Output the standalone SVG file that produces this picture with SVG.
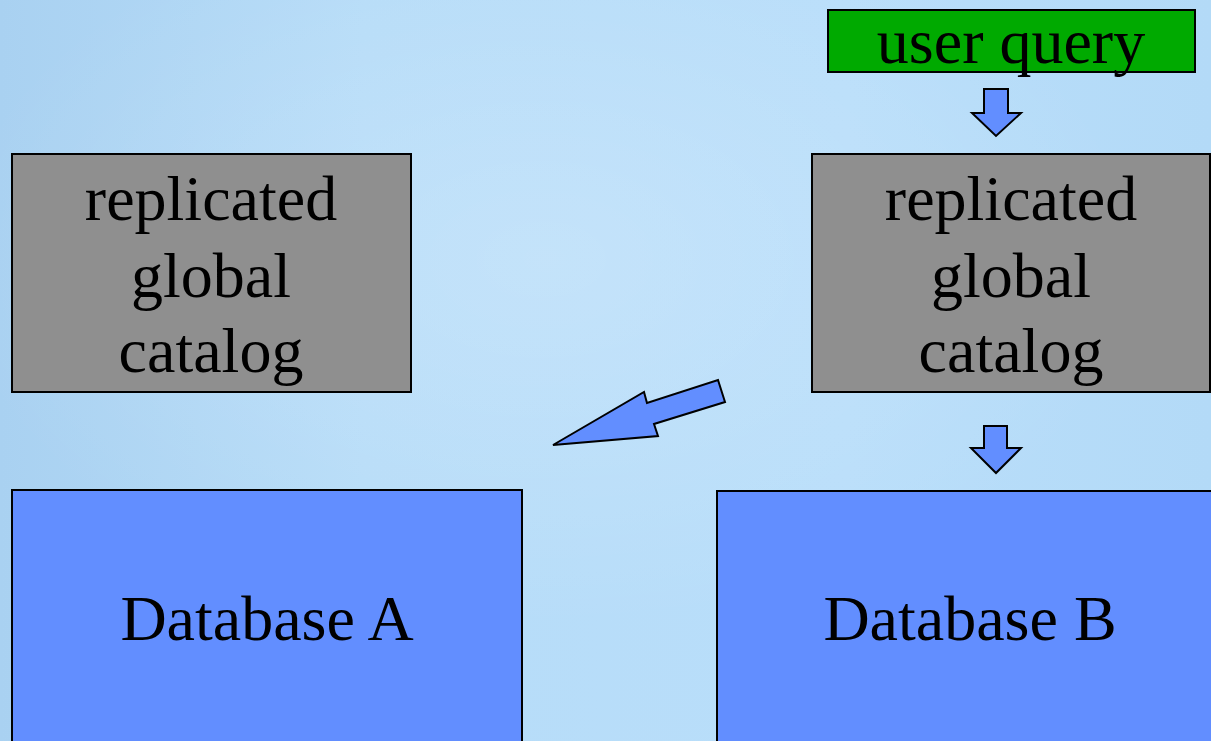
<svg xmlns="http://www.w3.org/2000/svg" width="1211" height="741" viewBox="0 0 1211 741">
<defs>
<linearGradient id="bg" x1="0" y1="0" x2="1" y2="0">
<stop offset="0" stop-color="#a9d1f1"/>
<stop offset="0.3" stop-color="#b6dcf8"/>
<stop offset="0.7" stop-color="#b9defa"/>
<stop offset="1" stop-color="#b3daf7"/>
</linearGradient>
<radialGradient id="glow" cx="0.45" cy="0.35" r="0.5">
<stop offset="0" stop-color="#ffffff" stop-opacity="0.18"/>
<stop offset="1" stop-color="#ffffff" stop-opacity="0"/>
</radialGradient>
<style>
.box{stroke:#000;stroke-width:2}
.gray{fill:#8f8f8f}
.blue{fill:#628eff}
.green{fill:#00aa00}
.arrow{fill:#628eff;stroke:#000;stroke-width:2;stroke-linejoin:miter}
text{font-family:"Liberation Serif","Times New Roman",serif;font-size:64px;fill:#000;text-anchor:middle}
</style>
</defs>
<rect width="1211" height="741" fill="url(#bg)"/>
<rect width="1211" height="741" fill="url(#glow)"/>
<g id="user-query">
<rect class="box green" x="828" y="10" width="367" height="62"/>
<text x="1011" y="63">user query</text>
</g>
<g id="catalog-left">
<rect class="box gray" x="12" y="154" width="399" height="238"/>
<text x="211" y="220">replicated</text>
<text x="211" y="297">global</text>
<text x="211" y="372">catalog</text>
</g>
<g id="catalog-right">
<rect class="box gray" x="812" y="154" width="398" height="238"/>
<text x="1011" y="220">replicated</text>
<text x="1011" y="297">global</text>
<text x="1011" y="372">catalog</text>
</g>
<g id="database-a">
<rect class="box blue" x="12" y="490" width="510" height="262"/>
<text x="267" y="640">Database A</text>
</g>
<g id="database-b">
<rect class="box blue" x="717" y="491" width="500" height="262"/>
<text x="970" y="640">Database B</text>
</g>
<g id="connectors">
<polygon class="arrow" points="984,89 1008,89 1008,113 1021,113 996,136 972,113 984,113"/>
<polygon class="arrow" points="984,426 1007,426 1007,448 1021,448 996,473 971,448 984,448"/>
<polygon class="arrow" points="553,445 644,392 647,403 718,380 725,402 654,424 658,436"/>
</g>
</svg>
